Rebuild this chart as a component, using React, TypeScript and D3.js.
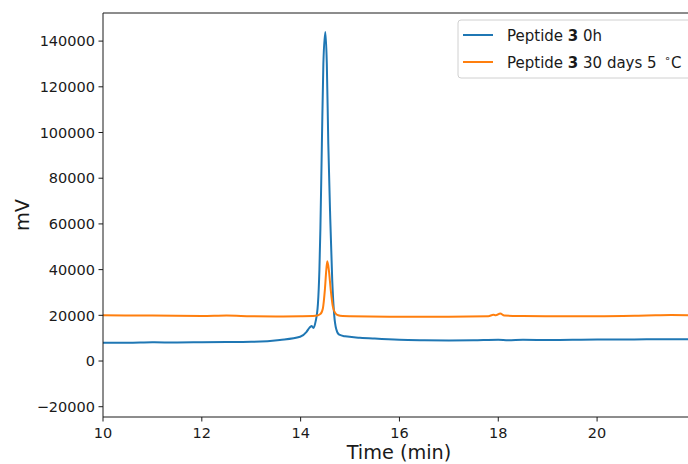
import React from "react";
import * as d3 from "d3";

const blueTimes = [10.0, 10.5, 11.0, 11.5, 12.0, 12.5, 13.0, 13.58, 13.99, 14.12, 14.18, 14.22, 14.26, 14.3, 14.35, 14.38, 14.4, 14.43, 14.46, 14.5, 14.53, 14.56, 14.6, 14.64, 14.68, 14.72, 14.78, 14.9, 15.2, 15.5, 16.0, 16.5, 17.0, 17.5, 18.0, 18.2, 18.5, 19.0, 19.5, 20.0, 20.5, 21.0, 21.5, 21.9];
const blueValues = [8000, 8000, 8200, 8100, 8200, 8300, 8400, 9200, 10600, 12800, 14600, 15300, 14400, 17000, 25000, 40000, 58000, 95000, 130000, 144000, 130000, 95000, 62000, 35000, 20000, 14000, 11500, 10800, 10200, 9800, 9300, 9100, 9000, 9100, 9300, 9100, 9300, 9200, 9300, 9400, 9400, 9500, 9500, 9500];

const orangeTimes = [10.0, 11.0, 12.0, 12.5, 13.0, 13.5, 14.0, 14.3, 14.4, 14.45, 14.49, 14.52, 14.54, 14.57, 14.61, 14.65, 14.7, 14.76, 14.85, 15.0, 16.0, 17.0, 17.8, 17.9, 17.95, 18.04, 18.12, 18.5, 19.0, 20.0, 21.0, 21.5, 21.9];
const orangeValues = [20000, 19900, 19700, 19900, 19600, 19500, 19600, 19800, 20600, 23000, 31000, 40000, 43700, 40000, 31000, 24000, 21000, 20000, 19700, 19600, 19400, 19400, 19600, 20200, 20000, 20800, 19900, 19700, 19600, 19600, 19900, 20100, 20000];

const xTicks = [10, 12, 14, 16, 18, 20];
const yTicks = [-20000, 0, 20000, 40000, 60000, 80000, 100000, 120000, 140000];

const seriesLabels = ["0h", "30 days 5 "];

const W = 688;
const H = 464;
const left = 103;
const right = 688;
const top = 13;
const bottom = 417;

export default function App() {
  const x = d3.scaleLinear().domain([10, 21.84]).range([left, right]);
  const y = d3.scaleLinear().domain([-24500, 152300]).range([bottom, top]);

  const mk = (ts: number[], vs: number[]) =>
    d3
      .line<number>()
      .x((_, i) => x(ts[i]))
      .y((v) => y(v))
      .curve(d3.curveMonotoneX)(vs) as string;

  const font = "DejaVu Sans, sans-serif";
  const fmt = (v: number) => (v < 0 ? "\u2212" + Math.abs(v) : String(v));
  const ink = "#1a1a1a";

  return (
    <svg
      width={W}
      height={H}
      style={{ position: "absolute", left: 0, top: 0, background: "#fff" }}
      fontFamily={font}
    >
      <defs>
        <clipPath id="plot">
          <rect x={left} y={top} width={right - left} height={bottom - top} />
        </clipPath>
      </defs>
      <g clipPath="url(#plot)">
        <path d={mk(blueTimes, blueValues)} fill="none" stroke="#1f77b4" strokeWidth={2} strokeLinejoin="round" />
        <path d={mk(orangeTimes, orangeValues)} fill="none" stroke="#ff7f0e" strokeWidth={2} strokeLinejoin="round" />
      </g>
      <line x1={left} x2={left} y1={top} y2={bottom} stroke={ink} strokeWidth={1} />
      <line x1={left} x2={W} y1={bottom} y2={bottom} stroke={ink} strokeWidth={1} />
      <line x1={left} x2={W} y1={top} y2={top} stroke={ink} strokeWidth={1} />
      {xTicks.map((t) => (
        <g key={"x" + t}>
          <line x1={x(t)} x2={x(t)} y1={bottom} y2={bottom + 4.5} stroke={ink} />
          <text x={x(t)} y={bottom + 20.5} textAnchor="middle" fontSize={14.5} fill={ink}>
            {t}
          </text>
        </g>
      ))}
      {yTicks.map((t) => (
        <g key={"y" + t}>
          <line x1={left - 4.5} x2={left} y1={y(t)} y2={y(t)} stroke={ink} />
          <text x={left - 8} y={y(t) + 5.2} textAnchor="end" fontSize={14.5} fill={ink}>
            {fmt(t)}
          </text>
        </g>
      ))}
      <text x={399} y={459} textAnchor="middle" fontSize={19.3} fill={ink}>
        Time (min)
      </text>
      <text
        transform={`translate(29, ${(top + bottom) / 2}) rotate(-90)`}
        textAnchor="middle"
        fontSize={19.3}
        fill={ink}
      >
        mV
      </text>
      <rect x={458} y={20} width={240} height={58} rx={3} fill="#fff" fillOpacity={0.8} stroke="#d0d0d0" />
      <line x1={463} x2={493} y1={35} y2={35} stroke="#1f77b4" strokeWidth={2} />
      <line x1={463} x2={493} y1={62} y2={62} stroke="#ff7f0e" strokeWidth={2} />
      <text x={507} y={40.5} fontSize={15} fill={ink}>
        Peptide <tspan fontWeight="bold">3</tspan> {seriesLabels[0]}
      </text>
      <text x={507} y={67.5} fontSize={15} fill={ink}>
        Peptide <tspan fontWeight="bold">3</tspan> {seriesLabels[1]}
        <tspan dx={3} dy={-5.5} fontSize={10.5}>{"\u2218"}</tspan>
        <tspan dy={5.5}>C</tspan>
      </text>
    </svg>
  );
}
